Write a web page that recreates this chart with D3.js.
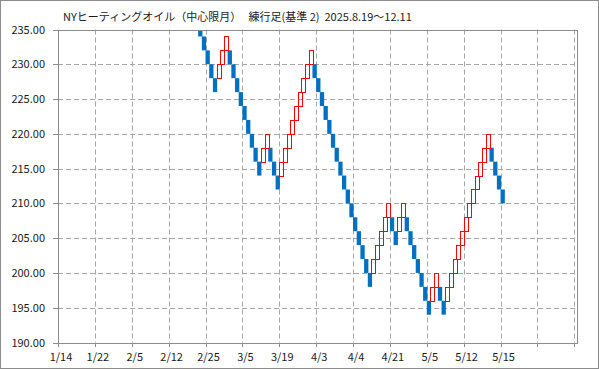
<!DOCTYPE html>
<html>
<head>
<meta charset="utf-8">
<script src="https://cdn.jsdelivr.net/npm/d3@7"></script>
<style>
  html, body { margin: 0; padding: 0; background: #fff; }
  svg { display: block; }
</style>
</head>
<body>
<div id="chart"></div>
<script>
// chart title
const title = "NYヒーティングオイル（中心限月）\u00a0\u00a0\u00a0練行足(基準\u00a02)\u00a0\u00a02025.8.19～12.11";

// x axis: one column per brick, a label every 10 columns
const columnCount = 141;
const labelStep = 10;
const xLabels = ["1/14", "1/22", "2/5", "2/12", "2/25", "3/5", "3/19", "4/3", "4/4", "4/21", "5/5", "5/12", "5/15"];

// y axis ticks
const yTicks = [190, 195, 200, 205, 210, 215, 220, 225, 230, 235];

// bricks (box size 2), first visible brick sits in column 38
const firstColumn = 38;
const brickOpen = [
  236, 234, 232, 230, 228,
  228, 230, 232,
  232, 230, 228, 226, 224, 222, 220, 218, 216,
  216, 218,
  218, 216, 214,
  214, 216, 218, 220, 222, 224, 226, 228, 230,
  230, 228, 226, 224, 222, 220, 218, 216, 214, 212, 210, 208, 206, 204, 202, 200,
  200, 202, 204, 206, 208,
  208, 206,
  206, 208,
  208, 206, 204, 202, 200, 198, 196,
  196, 198,
  198, 196,
  196, 198, 200, 202, 204, 206, 208, 210, 212, 214, 216, 218,
  218, 216, 214, 212
];
const brickClose = [
  234, 232, 230, 228, 226,
  230, 232, 234,
  230, 228, 226, 224, 222, 220, 218, 216, 214,
  218, 220,
  216, 214, 212,
  216, 218, 220, 222, 224, 226, 228, 230, 232,
  228, 226, 224, 222, 220, 218, 216, 214, 212, 210, 208, 206, 204, 202, 200, 198,
  202, 204, 206, 208, 210,
  206, 204,
  208, 210,
  206, 204, 202, 200, 198, 196, 194,
  198, 200,
  196, 194,
  198, 200, 202, 204, 206, 208, 210, 212, 214, 216, 218, 220,
  216, 214, 212, 210
];

const width = 599, height = 369;
const margin = { left: 58, right: 21, top: 29.5, bottom: 26.5 };

const svg = d3.select("#chart").append("svg")
  .attr("width", width)
  .attr("height", height);

// outer frame
svg.append("rect")
  .attr("x", 0.5).attr("y", 0.5)
  .attr("width", width - 1).attr("height", height - 1)
  .attr("fill", "#fff")
  .attr("stroke", "#8c8c8c");

const x = d3.scaleBand()
  .domain(d3.range(columnCount))
  .range([margin.left, width - margin.right])
  .padding(0);

const y = d3.scaleLinear()
  .domain([190, 235])
  .range([height - margin.bottom, margin.top]);

const font = "'Noto Sans CJK JP', 'Noto Sans', sans-serif";

// title
svg.append("text")
  .attr("x", 63)
  .attr("y", 21)
  .attr("font-family", font)
  .attr("font-size", 11)
  .attr("fill", "#1a1a1a")
  .text(title);

const grid = svg.append("g");

// horizontal gridlines
grid.selectAll("line.h")
  .data(yTicks.slice(1, -1))
  .join("line")
  .attr("class", "h")
  .attr("x1", margin.left).attr("x2", width - margin.right)
  .attr("y1", d => Math.round(y(d)) + 0.5)
  .attr("y2", d => Math.round(y(d)) + 0.5)
  .attr("stroke", "#a6a6a6")
  .attr("stroke-dasharray", "5,3");

// vertical gridlines
const tickCols = d3.range(labelStep, columnCount, labelStep);
grid.selectAll("line.v")
  .data(tickCols)
  .join("line")
  .attr("class", "v")
  .attr("x1", d => Math.round(x(d)) + 0.5)
  .attr("x2", d => Math.round(x(d)) + 0.5)
  .attr("y1", margin.top).attr("y2", height - margin.bottom)
  .attr("stroke", "#a6a6a6")
  .attr("stroke-dasharray", "5,3");

// plot border
svg.append("rect")
  .attr("x", margin.left + 0.5)
  .attr("y", Math.round(margin.top) + 0.5)
  .attr("width", width - margin.left - margin.right - 1)
  .attr("height", Math.round(height - margin.bottom) - Math.round(margin.top))
  .attr("fill", "none")
  .attr("stroke", "#8c8c8c");

// bricks
const bricks = brickOpen.map((o, i) => ({
  col: firstColumn + i,
  open: o,
  close: brickClose[i]
}));

const plot = svg.append("g");
const bw = x.bandwidth();

plot.selectAll("rect.down")
  .data(bricks.filter(d => d.close < d.open))
  .join("rect")
  .attr("class", "down")
  .attr("x", d => x(d.col))
  .attr("y", d => y(d.open))
  .attr("width", bw + 0.6)
  .attr("height", d => y(d.close) - y(d.open))
  .attr("fill", "#0070c0");

plot.selectAll("rect.up")
  .data(bricks.filter(d => d.close > d.open))
  .join("rect")
  .attr("class", "up")
  .attr("x", d => Math.round(x(d.col)) + 0.5)
  .attr("y", d => Math.round(y(d.close)) + 0.5)
  .attr("width", Math.round(bw))
  .attr("height", d => Math.round(y(d.open)) - Math.round(y(d.close)))
  .attr("fill", "none")
  .attr("stroke", "#ff0000");

// clip bricks above the top of the plot
plot.attr("clip-path", "url(#plotClip)");
svg.append("clipPath").attr("id", "plotClip")
  .append("rect")
  .attr("x", margin.left).attr("y", Math.round(margin.top) + 1)
  .attr("width", width - margin.left - margin.right)
  .attr("height", height - margin.top - margin.bottom);

// y axis
const yAxis = svg.append("g");
yAxis.selectAll("line")
  .data(yTicks)
  .join("line")
  .attr("x1", margin.left - 5).attr("x2", margin.left)
  .attr("y1", d => Math.round(y(d)) + 0.5)
  .attr("y2", d => Math.round(y(d)) + 0.5)
  .attr("stroke", "#8c8c8c");
yAxis.selectAll("text")
  .data(yTicks)
  .join("text")
  .attr("x", 45)
  .attr("y", d => y(d) + 4)
  .attr("text-anchor", "end")
  .attr("font-family", font)
  .attr("font-size", 11)
  .attr("fill", "#1a1a1a")
  .text(d => d.toFixed(2));

// x axis ticks and labels
const xAxis = svg.append("g");
xAxis.selectAll("line")
  .data(d3.range(0, columnCount, labelStep))
  .join("line")
  .attr("x1", d => Math.round(x(d)) + 0.5)
  .attr("x2", d => Math.round(x(d)) + 0.5)
  .attr("y1", Math.round(height - margin.bottom))
  .attr("y2", Math.round(height - margin.bottom) + 4)
  .attr("stroke", "#8c8c8c");
xAxis.selectAll("text")
  .data(xLabels)
  .join("text")
  .attr("x", (d, i) => x(i * labelStep) + 3)
  .attr("y", 361)
  .attr("text-anchor", "middle")
  .attr("font-family", font)
  .attr("font-size", 11)
  .attr("fill", "#1a1a1a")
  .text(d => d);
</script>
</body>
</html>
